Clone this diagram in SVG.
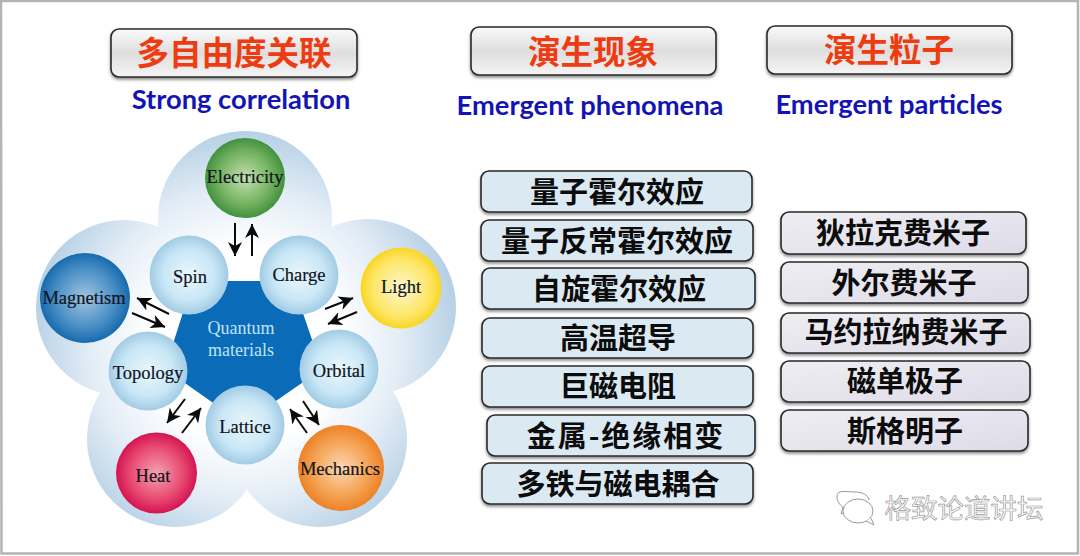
<svg xmlns="http://www.w3.org/2000/svg" width="1080" height="556" viewBox="0 0 1080 556">
<style>
.lbl{font-family:"Liberation Serif","Times New Roman",serif;font-size:18.500px;text-anchor:middle;fill:#10141f;stroke:#10141f;stroke-width:.2}
.box{stroke:#2a2a2a;stroke-width:1.6;filter:url(#sh)}
.hd{fill:url(#hdg)}
.l{fill:#dbe9f2}
.r{fill:url(#rg)}
.zh{font-family:"Noto Sans CJK SC","Liberation Sans",sans-serif;font-weight:700;text-anchor:middle}
.h{font-size:32.500px;fill:#ee3c12}
.t{font-size:29px;fill:#0c0c0c}
.en{font-family:Lato,"Liberation Sans",sans-serif;font-weight:700;font-size:27.300px;fill:#1414b4;text-anchor:middle}
.ar{stroke:#0a0a0a;stroke-width:2;fill:none;marker-end:url(#ah)}
</style>
<defs>
<filter id="sh" x="-5%" y="-15%" width="110%" height="135%"><feDropShadow dx="0" dy="2" stdDeviation="1.5" flood-color="#000" flood-opacity=".45"/></filter>
<marker id="ah" markerUnits="userSpaceOnUse" markerWidth="16" markerHeight="16" refX="14" refY="8" orient="auto"><path d="M0 1L14 8L0 15L4 8Z" fill="#0a0a0a"/></marker>
<linearGradient id="hdg" x1="0" y1="0" x2="0" y2="1"><stop offset="0" stop-color="#fafafa"/><stop offset=".5" stop-color="#dedede"/><stop offset="1" stop-color="#f4f4f4"/></linearGradient>
<linearGradient id="rg" x1="0" y1="0" x2="1" y2="1"><stop offset="0" stop-color="#eeeef2"/><stop offset="1" stop-color="#dedbe8"/></linearGradient>
<radialGradient id="lobe" gradientUnits="userSpaceOnUse" cx="245" cy="345" r="215"><stop offset=".45" stop-color="#fff"/><stop offset=".72" stop-color="#e3edf6"/><stop offset="1" stop-color="#b6d0e5"/></radialGradient>
<radialGradient id="sm"><stop offset="0" stop-color="#eaf7fc"/><stop offset=".65" stop-color="#c8e7f6"/><stop offset="1" stop-color="#a2cbe4"/></radialGradient>
<radialGradient id="gr"><stop offset="0" stop-color="#c6e0b4"/><stop offset=".65" stop-color="#74b360"/><stop offset="1" stop-color="#42913f"/></radialGradient>
<radialGradient id="bl"><stop offset="0" stop-color="#a3c5df"/><stop offset=".65" stop-color="#4a8fc6"/><stop offset="1" stop-color="#176aae"/></radialGradient>
<radialGradient id="ye"><stop offset="0" stop-color="#fdf6d0"/><stop offset=".7" stop-color="#fde768"/><stop offset="1" stop-color="#fad524"/></radialGradient>
<radialGradient id="re"><stop offset="0" stop-color="#f4a2ae"/><stop offset=".65" stop-color="#e84a72"/><stop offset="1" stop-color="#d41452"/></radialGradient>
<radialGradient id="or"><stop offset="0" stop-color="#fbd8b4"/><stop offset=".65" stop-color="#f5a252"/><stop offset="1" stop-color="#ec8228"/></radialGradient>
</defs>
<rect width="1080" height="556" fill="#fff"/>
<path d="M1 1H1078V553.500H1.500Z" fill="none" stroke="#b4b4b4" stroke-width="2.500"/>

<g id="petals" fill="url(#lobe)">
<circle cx="245" cy="218" r="87"/><circle cx="124" cy="308" r="88"/><circle cx="368" cy="307" r="88"/><circle cx="175" cy="439" r="88"/><circle cx="319" cy="439" r="88"/>
</g>
<g id="node-core"><path d="M193 281H292L322 369L243 424L165 369Z" fill="#0a6cb8"/>
<text x="241" y="334" font-family="Liberation Serif,serif" font-size="18" fill="#bfe3f7" text-anchor="middle">Quantum</text>
<text x="241" y="356" font-family="Liberation Serif,serif" font-size="18" fill="#bfe3f7" text-anchor="middle">materials</text></g>
<g id="node-spin"><circle cx="189" cy="275" r="39.500" fill="url(#sm)"/><text class="lbl" x="190" y="283">Spin</text></g>
<g id="node-charge"><circle cx="299" cy="275" r="39.500" fill="url(#sm)"/><text class="lbl" x="299" y="281">Charge</text></g>
<g id="node-orbital"><circle cx="339" cy="369" r="39.500" fill="url(#sm)"/><text class="lbl" x="339" y="377">Orbital</text></g>
<g id="node-lattice"><circle cx="245" cy="425" r="39.500" fill="url(#sm)"/><text class="lbl" x="245" y="433">Lattice</text></g>
<g id="node-topology"><circle cx="148" cy="371" r="39.500" fill="url(#sm)"/><text class="lbl" x="148" y="379">Topology</text></g>
<g id="node-electricity"><circle cx="245" cy="178" r="40" fill="url(#gr)"/><text class="lbl" x="245" y="183">Electricity</text></g>
<g id="node-magnetism"><circle cx="85" cy="298" r="45" fill="url(#bl)"/><text class="lbl" x="84" y="304">Magnetism</text></g>
<g id="node-light"><circle cx="401" cy="288" r="40.500" fill="url(#ye)"/><text class="lbl" x="401" y="293">Light</text></g>
<g id="node-heat"><circle cx="156.500" cy="473" r="40.500" fill="url(#re)"/><text class="lbl" x="153" y="482">Heat</text></g>
<g id="node-mechanics"><circle cx="341" cy="468" r="43" fill="url(#or)"/><text class="lbl" x="340" y="475">Mechanics</text></g>

<g id="connectors">
<path class="ar" d="M235 223V256"/><path class="ar" d="M252 256V224"/>
<path class="ar" d="M169 314L137 298"/><path class="ar" d="M132 313L165 327"/>
<path class="ar" d="M325 309L353 298"/><path class="ar" d="M357 312L328 324"/>
<path class="ar" d="M185 399L167 423"/><path class="ar" d="M182 433L201 408"/>
<path class="ar" d="M307 433L290 409"/><path class="ar" d="M303 401L319 425"/>
</g>

<g id="head-1"><rect class="box hd" x="111" y="29" width="246" height="48" rx="8"/><text class="zh h" x="234" y="65">多自由度关联</text></g>
<g id="head-2"><rect class="box hd" x="471" y="27" width="245" height="48" rx="8"/><text class="zh h" x="593" y="64">演生现象</text></g>
<g id="head-3"><rect class="box hd" x="767" y="26" width="245" height="48" rx="8"/><text class="zh h" x="889" y="62">演生粒子</text></g>
<text class="en" x="241" y="109">Strong correlation</text>
<text class="en" x="590" y="115">Emergent phenomena</text>
<text class="en" x="889" y="114">Emergent particles</text>

<g id="p1"><rect class="box l" x="481" y="171" width="271" height="41" rx="8"/><text class="zh t" x="617" y="203">量子霍尔效应</text></g>
<g id="p2"><rect class="box l" x="481" y="220" width="272" height="41" rx="8"/><text class="zh t" x="617" y="252">量子反常霍尔效应</text></g>
<g id="p3"><rect class="box l" x="482" y="268" width="273" height="41" rx="8"/><text class="zh t" x="619" y="300">自旋霍尔效应</text></g>
<g id="p4"><rect class="box l" x="482" y="318" width="271" height="40" rx="8"/><text class="zh t" x="618" y="349">高温超导</text></g>
<g id="p5"><rect class="box l" x="482" y="366" width="271" height="41" rx="8"/><text class="zh t" x="618" y="397">巨磁电阻</text></g>
<g id="p6"><rect class="box l" x="487" y="415" width="268" height="41" rx="8"/><text class="zh t" x="626" y="447" letter-spacing="2">金属-绝缘相变</text></g>
<g id="p7"><rect class="box l" x="482" y="463" width="271" height="41" rx="8"/><text class="zh t" x="618" y="495">多铁与磁电耦合</text></g>

<g id="q1"><rect class="box r" x="781" y="212" width="245" height="42" rx="8"/><text class="zh t" x="903" y="244">狄拉克费米子</text></g>
<g id="q2"><rect class="box r" x="781" y="262" width="247" height="41" rx="8"/><text class="zh t" x="904" y="294">外尔费米子</text></g>
<g id="q3"><rect class="box r" x="781" y="313" width="249" height="40" rx="8"/><text class="zh t" x="906" y="343">马约拉纳费米子</text></g>
<g id="q4"><rect class="box r" x="781" y="361" width="249" height="41" rx="8"/><text class="zh t" x="905" y="392">磁单极子</text></g>
<g id="q5"><rect class="box r" x="781" y="410" width="247" height="41" rx="8"/><text class="zh t" x="905" y="442">斯格明子</text></g>

<g id="watermark" fill="#fff" stroke="#9a9a9a" stroke-width="1">
<path d="M856 511C846 511 837 505 837 497C837 489 845 492 855 492C862 492 868 495 869 500M843 507L841 514L849 510"/>
<ellipse cx="858" cy="511" rx="15" ry="12"/>
<path d="M866 521L874 525L871 518" />
<text x="964" y="518" font-family="Noto Sans CJK SC,sans-serif" font-size="26.500" text-anchor="middle" stroke-width=".7">格致论道讲坛</text>
</g>
</svg>
